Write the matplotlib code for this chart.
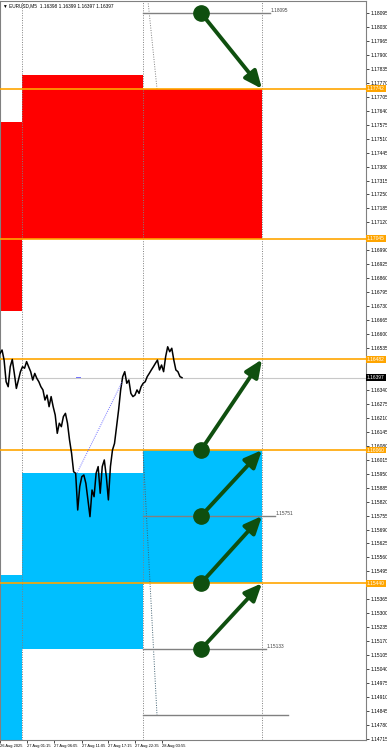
import matplotlib
matplotlib.use("Agg")
import matplotlib.pyplot as plt
import numpy as np
from matplotlib.patches import Rectangle, FancyArrowPatch

plt.rcParams['font.family'] = ['Liberation Sans', 'DejaVu Sans']

# ---------------- data ----------------
symbol_title = "EURUSD,M5  1.16398 1.16399 1.16397 1.16397"
current_price = 1.16397

# price ticks on the right axis
price_ticks = [round(1.18095 - 0.00065 * i, 5) for i in range(53)]

# date labels (time axis positions, label text)
date_pos = [0, 27, 54, 82, 108, 135, 162]
date_labels = ["26 Aug 2025", "27 Aug 01:15", "27 Aug 06:05", "27 Aug 11:05",
               "27 Aug 17:15", "27 Aug 22:35", "28 Aug 03:55"]

# close prices (M5)
closes = [1.16510, 1.16526, 1.16479, 1.16378, 1.16355, 1.16448, 1.16482, 1.16417,
          1.16347, 1.16386, 1.16425, 1.16448, 1.16441, 1.16472, 1.16448, 1.16425,
          1.16386, 1.16417, 1.16394, 1.16378, 1.16355, 1.16340, 1.16293, 1.16316,
          1.16262, 1.16309, 1.16262, 1.16223, 1.16138, 1.16185, 1.16169, 1.16216,
          1.16231, 1.16185, 1.16107, 1.16045, 1.15959, 1.15952, 1.15781, 1.15890,
          1.15936, 1.15944, 1.15905, 1.15828, 1.15750, 1.15874, 1.15843, 1.15952,
          1.15983, 1.15859, 1.15983, 1.16014, 1.15936, 1.15828, 1.15983, 1.16060,
          1.16091, 1.16169, 1.16247, 1.16340, 1.16402, 1.16425, 1.16371, 1.16386,
          1.16324, 1.16309, 1.16316, 1.16340, 1.16324, 1.16355, 1.16371, 1.16378,
          1.16402, 1.16417, 1.16433, 1.16448, 1.16464, 1.16479, 1.16433, 1.16456,
          1.16425, 1.16495, 1.16541, 1.16518, 1.16534, 1.16479, 1.16433, 1.16425,
          1.16402, 1.16397]
series_start, series_end = 0, 182

# zone boundaries on the time axis
t_zone = [0, 22, 143, 262]
# supply (red) zones
supply_top = [1.17588, 1.17806, 1.17742]
supply_bottom = [1.16708, 1.17045, 1.17045]
# demand (blue) zones
demand_top = [1.15478, 1.15953, 1.16060]
demand_bottom = [1.14600, 1.15133, 1.15440]

# orange horizontal levels
levels = [1.17742, 1.17045, 1.16482, 1.16060, 1.15440]

# target lines (price, end time, label)
target_prices = [1.18095, 1.15753, 1.15133, 1.14826]
target_ends = [270, 275, 266, 288]
target_labels = ["1.18095", "1.15751", "1.15133", ""]

# arrows: start price -> end price
arrow_t0, arrow_t1 = 201, 262
arrow_from = [1.18095, 1.16060, 1.15753, 1.15440, 1.15133]
arrow_to = [1.17742, 1.16482, 1.16060, 1.15753, 1.15440]

# swing connector (blue dotted)
swing_t = [77, 122]
swing_p = [1.15953, 1.16376]

# ---------------- drawing ----------------
W, H = 387, 750
fig = plt.figure(figsize=(W / 100, H / 100), dpi=100)
fig.patch.set_facecolor("white")
ax = fig.add_axes([0, 10 / H, 366 / W, 739 / H])

ymax = 1.18095 + 12 * 4.656e-5
ymin = 1.18095 - 727 * 4.656e-5
ax.set_xlim(0, 366)
ax.set_ylim(ymin, ymax)

red = "#FF0000"
blue = "#00BFFF"
orange = "#FFA500"
green = "#0f4f0f"
grey = "#808080"

for i in range(3):
    ax.add_patch(Rectangle((t_zone[i], supply_bottom[i]), t_zone[i + 1] - t_zone[i],
                           supply_top[i] - supply_bottom[i], facecolor=red,
                           edgecolor="none", zorder=1))
    ax.add_patch(Rectangle((t_zone[i], demand_bottom[i]), t_zone[i + 1] - t_zone[i],
                           demand_top[i] - demand_bottom[i], facecolor=blue,
                           edgecolor="none", zorder=1))

# vertical dotted separators
for t in t_zone[1:]:
    ax.axvline(t, color=grey, lw=0.7, ls=(0, (1, 1.5)), zorder=2)

# diagonal dotted lines
ax.plot([148, 157], [ymax, 1.17742], color=grey, lw=0.7, ls=(0, (1, 1.5)), zorder=2)
ax.plot([143, 157], [1.16060, 1.14826], color="#406070", lw=0.7, ls=(0, (1, 1.5)), zorder=2)

# current price line
ax.axhline(current_price, color="#c8c8c8", lw=0.8, zorder=2)

# orange levels
for lv in levels:
    ax.axhline(lv, color=orange, lw=1.2, zorder=3)

# target lines
for p, e, lab in zip(target_prices, target_ends, target_labels):
    ax.plot([143, e], [p, p], color=grey, lw=1.0, zorder=3)
    if lab:
        ax.text(e + 1, p, lab, fontsize=3.4, color="#404040", va="bottom", ha="left",
                zorder=4)

# price series
xs = np.linspace(series_start, series_end, len(closes))
ax.plot(xs, closes, color="black", lw=1.1, zorder=4)

# swing connector
ax.plot(swing_t, swing_p, color="#7070ff", lw=0.7, ls=(0, (1, 1.2)), zorder=4)
ax.plot([76, 80], [1.16400, 1.16400], color="#7070ff", lw=0.7, zorder=4)

# arrows
for a, b in zip(arrow_from, arrow_to):
    arr = FancyArrowPatch((arrow_t0, a), (arrow_t1, b),
                          arrowstyle="-|>,head_length=0.8,head_width=0.35",
                          mutation_scale=13, lw=2.8, color=green,
                          shrinkA=0, shrinkB=0, zorder=5)
    ax.add_patch(arr)
    ax.plot([arrow_t0], [a], marker="o", ms=11, color=green, zorder=6)

# axes styling
for s in ax.spines.values():
    s.set_color(grey)
    s.set_linewidth(0.8)
ax.yaxis.tick_right()
ax.set_yticks(price_ticks)
label_prices = levels + [current_price]
tick_texts = []
for p in price_ticks:
    hidden = any(abs(p - q) < 0.00013 for q in label_prices)
    tick_texts.append("" if hidden else f"{p:.5f}")
ax.set_yticklabels(tick_texts)
ax.tick_params(axis="y", labelsize=3.5, length=2, width=0.5, pad=1, colors="black")
ax.set_xticks(date_pos)
ax.set_xticklabels(date_labels, ha="left")
ax.tick_params(axis="x", labelsize=2.9, length=2, width=0.5, pad=1, colors="black")

# right-side level labels
tr = ax.get_yaxis_transform()
for lv in levels:
    ax.text(1.003, lv, f"{lv:.5f}", transform=tr, fontsize=3.5, color="white",
            va="center", ha="left", clip_on=False, zorder=10,
            bbox=dict(facecolor=orange, edgecolor="none", pad=0.6))
ax.text(1.003, current_price, f"{current_price:.5f}", transform=tr, fontsize=3.5,
        color="white", va="center", ha="left", clip_on=False, zorder=10,
        bbox=dict(facecolor="black", edgecolor="none", pad=0.6))

# title
fig.text(3 / W, 1 - 6 / H, "\u25BC " + symbol_title, fontsize=3.4, color="black",
         va="center", ha="left")

fig.savefig("out.png", dpi=100)
